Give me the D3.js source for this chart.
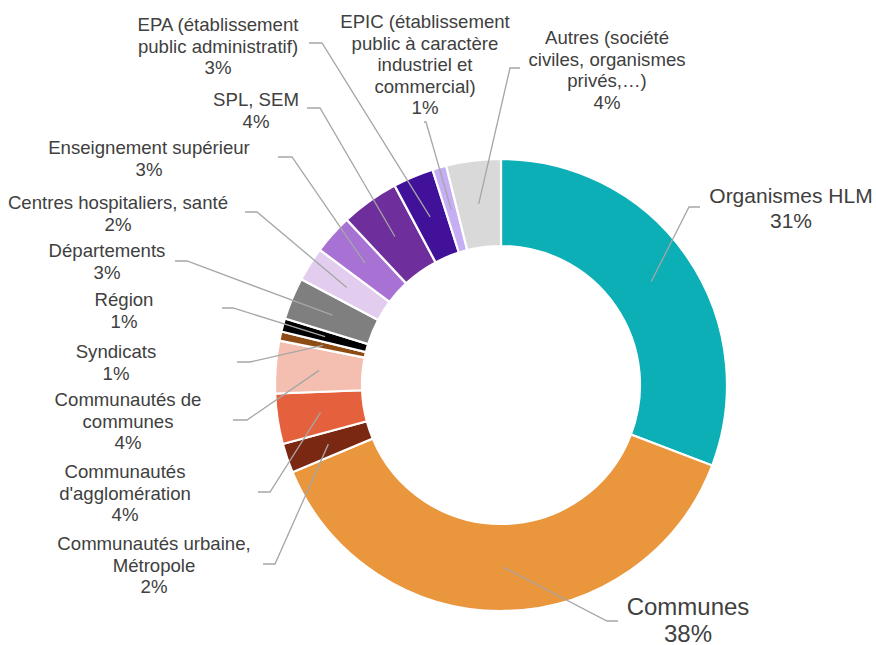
<!DOCTYPE html>
<html>
<head>
<meta charset="utf-8">
<script src="https://cdn.jsdelivr.net/npm/d3@7"></script>
<style>
  body { margin: 0; background: #fff; }
  text { font-family: "Liberation Sans", Arial, sans-serif; fill: #404040; }
</style>
</head>
<body>
<svg width="876" height="645"></svg>
<script>
// chart data, clockwise from 12 o'clock
var categories = ["Organismes HLM", "Communes", "Communautés urbaine, Métropole",
  "Communautés d'agglomération", "Communautés de communes", "Syndicats", "Région",
  "Départements", "Centres hospitaliers, santé", "Enseignement supérieur", "SPL, SEM",
  "EPA (établissement public administratif)",
  "EPIC (établissement public à caractère industriel et commercial)",
  "Autres (société civiles, organismes privés,…)"];
var shares = [30.8, 37.9, 2.1, 3.6, 3.75, 0.65, 0.95, 3.0, 2.45, 2.85, 4.15, 2.9, 1.0, 3.9];
var labelLines = [
  ["Organismes HLM"], ["Communes"], ["Communautés urbaine,", "Métropole"],
  ["Communautés", "d'agglomération"], ["Communautés de", "communes"], ["Syndicats"],
  ["Région"], ["Départements"], ["Centres hospitaliers, santé"], ["Enseignement supérieur"],
  ["SPL, SEM"], ["EPA (établissement", "public administratif)"],
  ["EPIC (établissement", "public à caractère", "industriel et", "commercial)"],
  ["Autres (société", "civiles, organismes", "privés,…)"]
];
var colors = ["#0cafb6", "#e9963d", "#7b2812", "#e5613d", "#f4bfb0", "#8c4c14", "#000000",
  "#7f7f7f", "#e2cdef", "#a872d4", "#6e2f9c", "#41119a", "#c5aef3", "#d9d9d9"];

// label layout: [text center x, first baseline, font size, line step]
var labelPos = [
  [791, 203, 21, 25], [688, 615, 24, 26.5], [154, 550, 18.6, 21.5], [125, 478, 18.6, 21.5],
  [128, 406, 18.6, 21.5], [116, 358, 18.6, 21.5], [124, 306, 18.6, 21.5], [107, 257, 18.6, 21.5],
  [118, 209, 18.6, 21.5], [149, 154, 18.6, 21.5], [256, 106, 18.6, 21.5], [218, 31, 18.6, 21.5],
  [425, 28, 18.6, 21.5], [607, 44, 18.6, 21.5]
];
// leader lines: [start x, elbow x, elbow y]
var leaderPos = [
  [700, 689, 207], [618, 607, 621], [263, 275, 564], [258, 270, 492], [233, 247, 420],
  [237, 250, 362], [222, 233, 308], [175, 187, 261], [245, 257, 212], [278, 292, 157],
  [307, 320, 108], [309, 322, 43], [424, 426, 122], [520, 510, 68]
];

var svg = d3.select("svg");
var cx = 501, cy = 385, outer = 226, inner = 139;
var total = d3.sum(shares);
var fmt = d3.format(".0%");

var pie = d3.pie().sort(null).value(function (d) { return d; });
var arc = d3.arc().innerRadius(inner).outerRadius(outer);
var arcs = pie(shares);

var g = svg.append("g").attr("transform", "translate(" + cx + "," + cy + ")");

g.selectAll("path.slice")
  .data(arcs)
  .enter().append("path")
  .attr("class", "slice")
  .attr("d", arc)
  .attr("fill", function (d, i) { return colors[i]; })
  .attr("stroke", "#fff")
  .attr("stroke-width", 2.2);

// leader lines from slice centroid
svg.selectAll("polyline.leader")
  .data(arcs)
  .enter().append("polyline")
  .attr("class", "leader")
  .attr("fill", "none")
  .attr("stroke", "#a6a6a6")
  .attr("stroke-width", 1.3)
  .attr("points", function (d, i) {
    var c = arc.centroid(d);
    var p = leaderPos[i];
    return [[p[0], p[2]], [p[1], p[2]], [c[0] + cx, c[1] + cy]].join(" ");
  });

// labels
arcs.forEach(function (d, i) {
  var p = labelPos[i];
  var lines = labelLines[i].concat([fmt(d.value / total)]);
  var t = svg.append("text")
    .attr("text-anchor", "middle")
    .style("font-size", p[2] + "px");
  lines.forEach(function (s, k) {
    t.append("tspan").attr("x", p[0]).attr("y", p[1] + k * p[3]).text(s);
  });
});
</script>
</body>
</html>
